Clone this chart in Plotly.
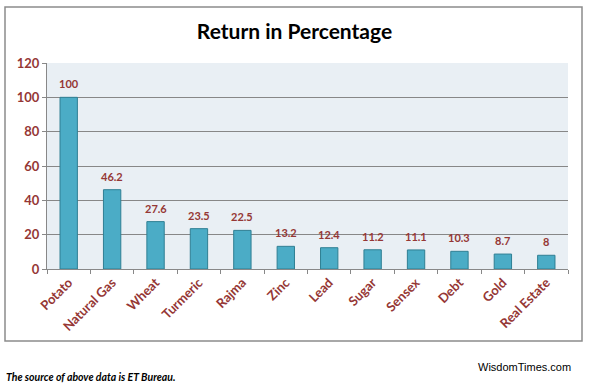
import plotly.graph_objects as go

categories = ["Potato", "Natural Gas", "Wheat", "Turmeric", "Rajma", "Zinc", "Lead",
              "Sugar", "Sensex", "Debt", "Gold", "Real Estate"]
returns = [100, 46.2, 27.6, 23.5, 22.5, 13.2, 12.4, 11.2, 11.1, 10.3, 8.7, 8]
value_labels = ["100", "46.2", "27.6", "23.5", "22.5", "13.2", "12.4", "11.2", "11.1", "10.3", "8.7", "8"]
y_ticks = [0, 20, 40, 60, 80, 100, 120]

W, H = 589, 387
L, R, T, B = 47, 21, 63, 118
pw, ph = W - L - R, H - T - B

def px(x):
    return (x - L) / pw

def py(y):
    return (H - B - y) / ph

red = "#953735"
font = "Lato, 'Open Sans', sans-serif"

fig = go.Figure(go.Bar(
    x=categories, y=returns,
    marker=dict(color="#4BACC6", line=dict(color="#2F7F93", width=1)),
    width=0.4,
    hoverinfo="x+y",
))

for c, v, t in zip(categories, returns, value_labels):
    fig.add_annotation(x=c, y=v, text=f"<b>{t}</b>", showarrow=False,
                       yanchor="bottom", yshift=5,
                       font=dict(color=red, size=11, family=font))

fig.update_layout(
    width=W, height=H,
    margin=dict(l=L, r=R, t=T, b=B),
    paper_bgcolor="white",
    plot_bgcolor="#E9EFF4",
    showlegend=False,
    title=dict(text="<b>Return in Percentage</b>", x=0.5, xanchor="center",
               y=1 - 32 / H, yanchor="middle",
               font=dict(size=21, color="black", family=font)),
    xaxis=dict(type="category", tickson="boundaries", ticks="outside", ticklen=4,
               tickcolor="#888888", showline=True, linecolor="#888888", linewidth=1,
               showgrid=False, tickangle=-45,
               tickfont=dict(color=red, size=13, family=font, weight="bold")),
    yaxis=dict(range=[0, 120], tickvals=y_ticks, ticks="outside", ticklen=4,
               tickcolor="#888888", showline=True, linecolor="#888888", linewidth=1,
               showgrid=True, gridcolor="#878787", gridwidth=1, zeroline=False,
               tickfont=dict(color=red, size=13, family=font, weight="bold")),
    bargap=0.6,
)

fig.add_shape(type="rect", xref="paper", yref="paper",
              x0=px(5), x1=px(582), y0=py(341), y1=py(7),
              line=dict(color="#8C8C8C", width=1.5), layer="below")

fig.add_annotation(text="WisdomTimes.com", xref="paper", yref="paper",
                   x=px(573), y=py(367), xanchor="right", yanchor="middle",
                   showarrow=False, font=dict(size=11, color="black", family="Liberation Sans, Arial, sans-serif"))
fig.add_annotation(text="<b><i>The source of above data is ET Bureau.</i></b>", xref="paper", yref="paper",
                   x=px(4), y=py(377), xanchor="left", yanchor="middle",
                   showarrow=False, font=dict(size=10.5, color="black", family=font))

fig.write_html("out.html", config={"displayModeBar": False},
               post_script="document.body.style.margin='0';document.body.style.overflow='hidden';")
